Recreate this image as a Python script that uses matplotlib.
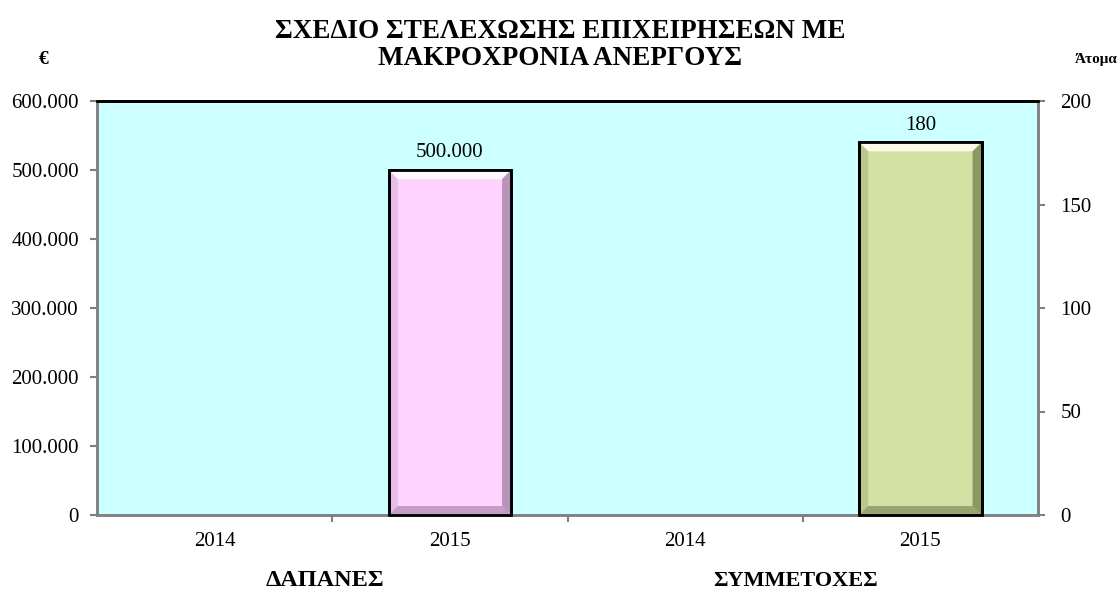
import matplotlib
matplotlib.use("Agg")
import matplotlib.pyplot as plt
from matplotlib.patches import Polygon
from matplotlib.ticker import FuncFormatter, MultipleLocator, FixedLocator
from matplotlib.transforms import IdentityTransform

categories = ["2014", "2015", "2014", "2015"]
expenses = [0, 500000]          # € (ΔΑΠΑΝΕΣ), categories 0-1
participants = [0, 180]         # Άτομα (ΣΥΜΜΕΤΟΧΕΣ), categories 2-3
group_labels = ["ΔΑΠΑΝΕΣ", "ΣΥΜΜΕΤΟΧΕΣ"]
title = "ΣΧΕΔΙΟ ΣΤΕΛΕΧΩΣΗΣ ΕΠΙΧΕΙΡΗΣΕΩΝ ΜΕ\nΜΑΚΡΟΧΡΟΝΙΑ ΑΝΕΡΓΟΥΣ"

plt.rcParams['font.family'] = ['Liberation Serif', 'DejaVu Serif']

W, H = 1120, 596
fig = plt.figure(figsize=(W / 100, H / 100), dpi=100)
ax = fig.add_axes([97 / W, 1 - 515 / H, (1038 - 97) / W, (515 - 101) / H])
ax2 = ax.twinx()

ax.set_facecolor("#CCFFFF")
ax.set_xlim(-0.5, 3.5)
ax.set_ylim(0, 600000)
ax2.set_ylim(0, 200)

bw = 0.52
pink = "#FFD3FF"
green = "#D3E1A5"
b1 = ax.bar([0, 1], expenses, width=bw, color=pink,
            edgecolor=["black" if v > 0 else "none" for v in expenses], linewidth=2, zorder=3)
b2 = ax2.bar([2, 3], participants, width=bw, color=green,
             edgecolor=["black" if v > 0 else "none" for v in participants], linewidth=2, zorder=3)

fig.canvas.draw()

def bevel(axis, bar, light, dark, side):
    if bar.get_height() <= 0:
        return
    x0, y0 = bar.get_x(), 0
    x1, y1 = bar.get_x() + bar.get_width(), bar.get_height()
    (X0, Y0) = axis.transData.transform((x0, y0))
    (X1, Y1) = axis.transData.transform((x1, y1))
    d = 9
    polys = [
        ([(X0, Y1), (X1, Y1), (X1 - d, Y1 - d), (X0 + d, Y1 - d)], light, 0.9),
        ([(X1, Y1), (X1, Y0), (X1 - d, Y0 + d), (X1 - d, Y1 - d)], dark, 0.6),
        ([(X0, Y0), (X1, Y0), (X1 - d, Y0 + d), (X0 + d, Y0 + d)], dark, 0.5),
        ([(X0, Y1), (X0, Y0), (X0 + d, Y0 + d), (X0 + d, Y1 - d)], side, 0.3),
    ]
    for pts, col, a in polys:
        p = Polygon(pts, closed=True, transform=IdentityTransform(), facecolor=col,
                    edgecolor="none", alpha=a, zorder=4)
        fig.patches.append(p)
    border = Polygon([(X0, Y0), (X1, Y0), (X1, Y1), (X0, Y1)], closed=True,
                     transform=IdentityTransform(), facecolor="none",
                     edgecolor="black", linewidth=2, zorder=5)
    fig.patches.append(border)

for b in b1:
    bevel(ax, b, "#FFFFFF", "#8A6A8A", "#B08AB0")
for b in b2:
    bevel(ax2, b, "#FFFFF0", "#5E6A3A", "#7E8A55")

fmt = lambda v: f"{v:,.0f}".replace(",", ".")

for b, v in zip(b1, expenses):
    if v > 0:
        ax.text(b.get_x() + b.get_width() / 2, v + 11000, fmt(v),
                ha="center", va="bottom", fontsize=15, zorder=6)
for b, v in zip(b2, participants):
    if v > 0:
        ax2.text(b.get_x() + b.get_width() / 2, v + 3.7, fmt(v),
                 ha="center", va="bottom", fontsize=15, zorder=6)

ax.yaxis.set_major_locator(MultipleLocator(100000))
ax.yaxis.set_major_formatter(FuncFormatter(lambda v, p: fmt(v)))
ax2.yaxis.set_major_locator(MultipleLocator(50))
ax.set_xticks(range(len(categories)))
ax.set_xticklabels(categories)
ax.xaxis.set_minor_locator(FixedLocator([0.5, 1.5, 2.5]))
ax.tick_params(axis="x", which="major", length=0, labelsize=15, pad=12)
ax.tick_params(axis="x", which="minor", length=5, color="#808080", width=1.5)
ax.tick_params(axis="y", length=5, color="#808080", width=1.5, labelsize=15, pad=8)
ax2.tick_params(axis="y", length=5, color="#808080", width=1.5, labelsize=15, pad=11)

for a in (ax, ax2):
    for s in ("left", "right", "bottom"):
        a.spines[s].set_color("#808080")
        a.spines[s].set_linewidth(1.8)
    a.spines["top"].set_color("black")
    a.spines["top"].set_linewidth(2)

fig.text(0.5, 1 - 45 / H, title, ha="center", va="center", fontsize=19.5, fontweight="bold",
         linespacing=1.08)
fig.text(44 / W, 1 - 59 / H, "€", ha="center", va="center", fontsize=14, fontweight="bold")
fig.text(1096 / W, 1 - 60 / H, "Άτομα", ha="center", va="center", fontsize=11, fontweight="bold")
fig.text(325 / W, 1 - 581 / H, group_labels[0], ha="center", va="center", fontsize=17.5, fontweight="bold")
fig.text(796 / W, 1 - 581 / H, group_labels[1], ha="center", va="center", fontsize=16, fontweight="bold")

fig.savefig("out.png", dpi=100, facecolor="white")
